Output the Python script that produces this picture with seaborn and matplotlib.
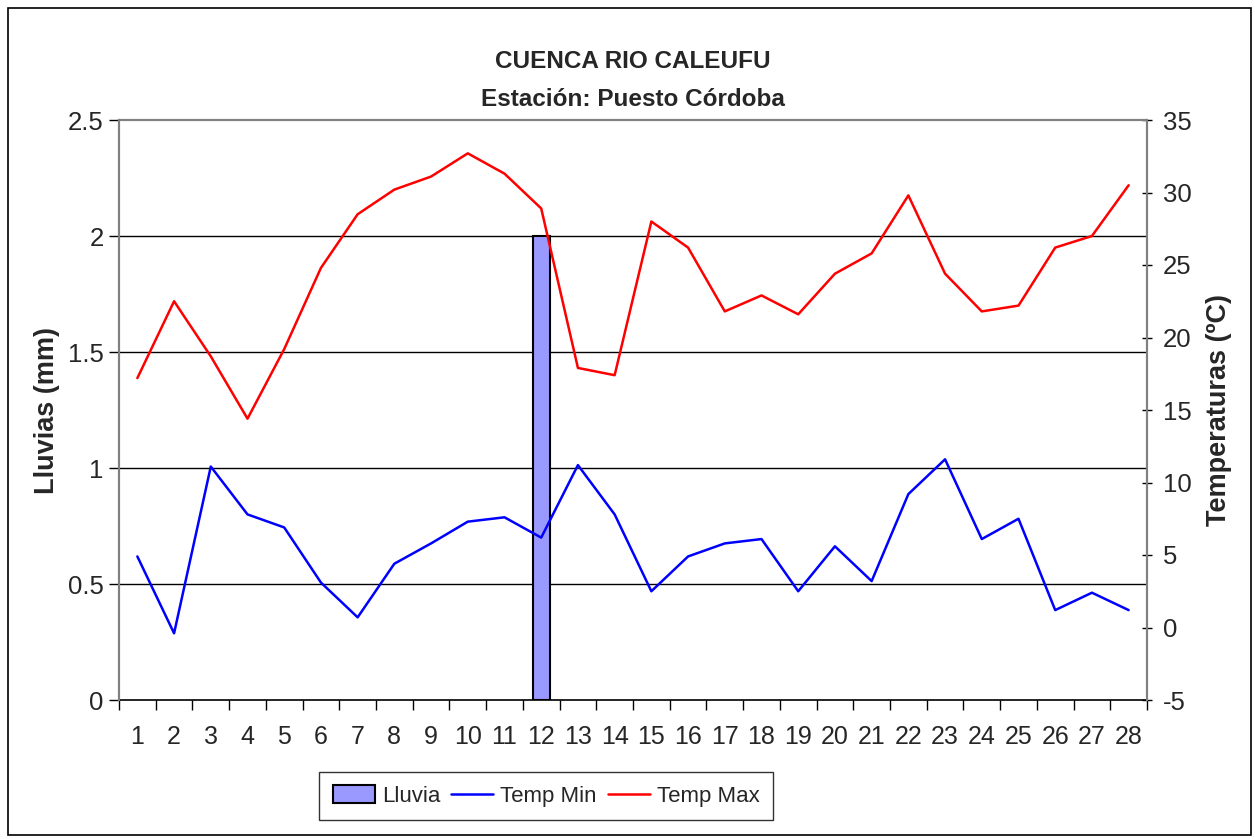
import matplotlib
matplotlib.use("Agg")
import matplotlib.pyplot as plt
import seaborn as sns
import pandas as pd
import numpy as np
from matplotlib.patches import Rectangle
from matplotlib.lines import Line2D

dias = list(range(1, 29))
lluvia = [0, 0, 0, 0, 0, 0, 0, 0, 0, 0, 0, 2.0, 0, 0, 0, 0, 0, 0, 0, 0, 0, 0, 0, 0, 0, 0, 0, 0]
temp_min = [4.9, -0.4, 11.1, 7.8, 6.9, 3.1, 0.7, 4.4, 5.8, 7.3, 7.6, 6.2, 11.2, 7.8,
            2.5, 4.9, 5.8, 6.1, 2.5, 5.6, 3.2, 9.2, 11.6, 6.1, 7.5, 1.2, 2.4, 1.2]
temp_max = [17.2, 22.5, 18.7, 14.4, 19.2, 24.8, 28.5, 30.2, 31.1, 32.7, 31.3, 28.9, 17.9, 17.4,
            28.0, 26.2, 21.8, 22.9, 21.6, 24.4, 25.8, 29.8, 24.4, 21.8, 22.2, 26.2, 27.0, 30.5]

sns.set_theme(style="white")
plt.rcParams['font.family'] = ['Liberation Sans', 'DejaVu Sans']

df = pd.DataFrame({"dia": dias, "lluvia": lluvia, "tmin": temp_min, "tmax": temp_max})
df["pos"] = np.arange(len(dias))

fig = plt.figure(figsize=(12.55, 8.39), dpi=100)
fig.patches.append(Rectangle((8/1255, 4/839), 1243/1255, 827/839, transform=fig.transFigure,
                             fill=False, edgecolor="black", linewidth=1.2))
ax = fig.add_axes([119/1255, 1-700/839, 1028/1255, 580/839])

sns.barplot(data=df, x="pos", y="lluvia", ax=ax, color="#9999ff", width=0.46,
            edgecolor="black", linewidth=1.5, saturation=1, zorder=3)
for p in ax.patches:
    if p.get_height() == 0:
        p.set_visible(False)
ax.set_xlim(-0.5, 27.5)
ax.set_ylim(0, 2.5)
ax.set_yticks([0, 0.5, 1, 1.5, 2, 2.5])
ax.set_yticklabels(["0", "0.5", "1", "1.5", "2", "2.5"], fontsize=18.5)
ax.set_xticks(np.arange(28))
ax.set_xticklabels([str(d) for d in dias], fontsize=18)
ax.tick_params(axis="x", which="major", length=0, pad=18)
ax.set_xticks(np.arange(-0.5, 28, 1), minor=True)
ax.tick_params(axis="x", which="minor", length=7, width=1, color="black", direction="out", bottom=True)
ax.tick_params(axis="y", length=7, width=1, color="black", direction="out", left=True, pad=4)
for y in [0.5, 1, 1.5, 2]:
    ax.axhline(y, color="black", linewidth=1, zorder=1)
ax.set_xlabel("")
ax.set_ylabel("Lluvias (mm)", fontsize=19.5, fontweight="bold", labelpad=6)
for s in ["left", "top", "right"]:
    ax.spines[s].set_color("#808080")
    ax.spines[s].set_linewidth(1.5)
ax.spines["bottom"].set_color("black")
ax.spines["bottom"].set_linewidth(1.2)

ax2 = ax.twinx()
sns.lineplot(data=df, x="pos", y="tmin", ax=ax2, color="#0000ff", linewidth=1.8, zorder=4)
sns.lineplot(data=df, x="pos", y="tmax", ax=ax2, color="#ff0000", linewidth=1.8, zorder=4)
ax2.set_ylim(-5, 35)
ax2.set_yticks(range(-5, 36, 5))
ax2.set_yticklabels([str(v) for v in range(-5, 36, 5)], fontsize=18.5)
ax2.tick_params(axis="y", length=7, width=1, color="black", direction="inout", right=True, pad=8)
ax2.set_ylabel("Temperaturas (ºC)", fontsize=19.5, fontweight="bold", labelpad=10)
ax2.set_xlim(-0.5, 27.5)
ax2.set_xlabel("")
for s in ["left", "top", "right"]:
    ax2.spines[s].set_color("#808080")
    ax2.spines[s].set_linewidth(1.5)
ax2.spines["bottom"].set_visible(False)

fig.text(633/1255, 1-62/839, "CUENCA RIO CALEUFU", ha="center", va="center",
         fontsize=17.5, fontweight="bold")
fig.text(633/1255, 1-100/839, "Estación: Puesto Córdoba", ha="center", va="center",
         fontsize=17.5, fontweight="bold")

handles = [Rectangle((0, 0), 1, 1, facecolor="#9999ff", edgecolor="black", linewidth=1.5),
           Line2D([], [], color="#0000ff", linewidth=1.8),
           Line2D([], [], color="#ff0000", linewidth=1.8)]
leg = fig.legend(handles, ["Lluvia", "Temp Min", "Temp Max"], loc="center",
                 bbox_to_anchor=(546/1255, 1-796/839), ncol=3, frameon=True,
                 fontsize=16, fancybox=False, edgecolor="black", handlelength=1.9,
                 handleheight=0.85, handletextpad=0.3, columnspacing=0.5, borderpad=0.6)
leg.get_frame().set_linewidth(1.0)

fig.savefig("out.png", dpi=100, facecolor="white")
